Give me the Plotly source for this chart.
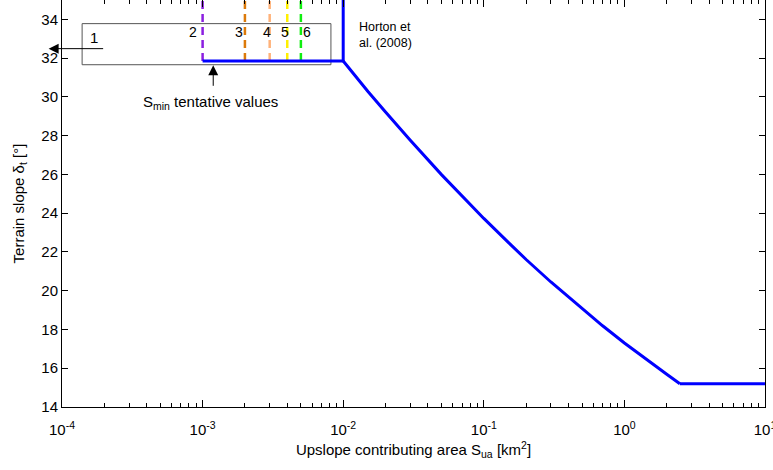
import numpy as np
import plotly.graph_objects as go

# ---- data ----
smin_values = [0.001, 0.002, 0.003, 0.004, 0.005]
smin_labels = ["2", "3", "4", "5", "6"]
smin_colors = ["#8B1FE0", "#DC7A0A", "#FFB27A", "#FFF000", "#10EE10"]

plateau_area = [0.001, 0.01]
plateau_slope = [31.85, 31.85]

horton_area = [0.01, 0.01]
horton_slope = [31.85, 36.0]

curve_area = [0.01, 0.012, 0.015, 0.02, 0.03, 0.05, 0.07, 0.1, 0.15, 0.2, 0.3,
              0.5, 0.7, 1.0, 1.5, 2.0, 2.48]
curve_slope = [31.85, 31.12, 30.28, 29.22, 27.76, 25.99, 24.87, 23.73, 22.48, 21.61,
               20.45, 19.06, 18.19, 17.30, 16.34, 15.69, 15.2]

floor_area = [2.48, 10.0]
floor_slope = [15.2, 15.2]

box_area = [1.39e-4, 8.18e-3, 8.18e-3, 1.39e-4, 1.39e-4]
box_slope = [33.78, 33.78, 31.66, 31.66, 33.78]

x_tickvals = [1e-4, 1e-3, 1e-2, 1e-1, 1e0, 1e1]
x_ticktext = ["10<sup>-4</sup>", "10<sup>-3</sup>", "10<sup>-2</sup>",
              "10<sup>-1</sup>", "10<sup>0</sup>", "10<sup>1</sup>"]
y_tickvals = [14, 16, 18, 20, 22, 24, 26, 28, 30, 32, 34]

FONT = "Liberation Sans, Arial, sans-serif"

fig = go.Figure()

# box around the S_min region
fig.add_trace(go.Scatter(x=box_area, y=box_slope, mode="lines",
                         line=dict(color="#555555", width=1),
                         hoverinfo="skip", showlegend=False))

# dashed S_min tentative lines
for v, c in zip(smin_values, smin_colors):
    fig.add_trace(go.Scatter(x=[v, v], y=[plateau_slope[0], 36.0], mode="lines",
                             line=dict(color=c, width=2.5, dash="8px,5px"),
                             showlegend=False))

blue = dict(color="#0000FF", width=3)
fig.add_trace(go.Scatter(x=plateau_area, y=plateau_slope, mode="lines", line=blue, showlegend=False))
fig.add_trace(go.Scatter(x=horton_area, y=horton_slope, mode="lines", line=blue, showlegend=False))
fig.add_trace(go.Scatter(x=curve_area, y=curve_slope, mode="lines", line=blue, showlegend=False))
fig.add_trace(go.Scatter(x=floor_area, y=floor_slope, mode="lines", line=blue, showlegend=False))

ann = []
# numbers 2..6 next to dashed lines
shifts = [-10, -6, -3, -2, 6]
for v, lab, s in zip(smin_values, smin_labels, shifts):
    ann.append(dict(x=np.log10(v), y=33.33, text=lab, showarrow=False, xshift=s,
                    font=dict(size=14, color="black", family=FONT)))
ann.append(dict(x=np.log10(1.69e-4), y=33.09, text="1", showarrow=False,
                font=dict(size=15, color="black", family=FONT)))
# arrow for box 1 pointing left, outside the axes
ann.append(dict(xref="paper", yref="y", x=-0.019, y=32.49, text="", showarrow=True,
                ax=56, ay=0, arrowhead=2, arrowsize=2, arrowwidth=1,
                arrowcolor="black"))
# S_min tentative values with arrow pointing up
ann.append(dict(x=np.log10(1.19e-3), y=31.63, text="", showarrow=True,
                ax=0, ay=22, arrowhead=2, arrowsize=2, arrowwidth=1,
                arrowcolor="black"))
ann.append(dict(x=np.log10(1.13e-3), y=29.72, text="S<sub>min</sub> tentative values",
                showarrow=False, font=dict(size=15, color="black", family=FONT)))
ann.append(dict(x=np.log10(0.01253), y=33.2, text="Horton et<br>al. (2008)",
                showarrow=False, xanchor="left", align="left",
                font=dict(size=12.5, color="black", family=FONT)))

fig.update_layout(
    width=773, height=470,
    margin=dict(l=62, r=8, t=0, b=63),
    plot_bgcolor="white", paper_bgcolor="white",
    font=dict(family=FONT, size=15, color="black"),
    annotations=ann,
    showlegend=False,
)
fig.update_xaxes(type="log", range=[-4, 1], tickvals=x_tickvals, ticktext=x_ticktext,
                 ticks="inside", ticklen=7, tickcolor="black", showline=True,
                 linecolor="black", linewidth=1, mirror="ticks", showgrid=False,
                 zeroline=False, automargin=False, tickfont=dict(size=15),
                 ticklabelstandoff=9, ticklabeloverflow="allow",
                 minor=dict(ticks="inside", ticklen=4, tickcolor="black",
                            tickvals=[m * 10.0 ** e for e in range(-4, 1) for m in range(2, 10)],
                            showgrid=False),
                 title=dict(text="Upslope contributing area S<sub>ua</sub> [km<sup>2</sup>]",
                            font=dict(size=15), standoff=7))
fig.update_yaxes(range=[14, 35], tickvals=y_tickvals, ticks="inside", ticklen=6,
                 tickcolor="black", showline=True, linecolor="black", linewidth=1,
                 mirror="ticks", showgrid=False, zeroline=False, automargin=False,
                 tickfont=dict(size=15),
                 title=dict(text="Terrain slope δ<sub>t</sub> [°]", font=dict(size=15),
                            standoff=13))

fig.write_html("out.html")
